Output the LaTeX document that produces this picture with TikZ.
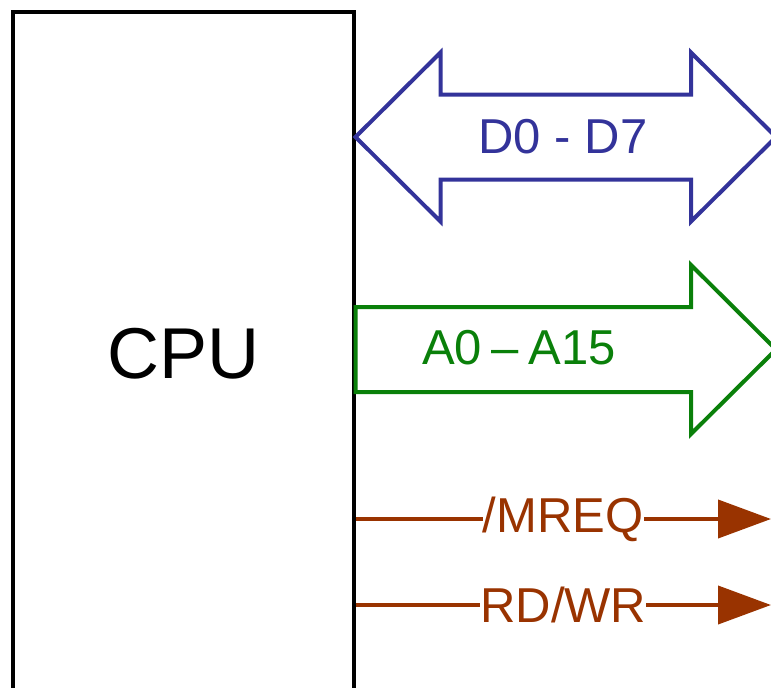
\documentclass[tikz,border=0pt]{standalone}
\usepackage{fontspec}
\setmainfont{Liberation Sans}
\usepackage{xcolor}
\definecolor{databus}{HTML}{33339A}
\definecolor{addrbus}{HTML}{0A800A}
\definecolor{ctrlsig}{HTML}{993300}
\usetikzlibrary{calc,arrows.meta,positioning}

\begin{document}
\begin{tikzpicture}[
    x=1pt, y=-1pt,
    cpubox/.style={draw, line width=3.5pt, minimum width=341, minimum height=684,
      inner sep=0pt, font=\fontsize{72}{74}\selectfont},
    bus/.style={line width=4pt, fill=white, line join=miter},
    buslabel/.style={inner sep=0pt, font=\fontsize{49}{50}\selectfont},
    sig/.style={ctrlsig, line width=4pt, -{Triangle[length=53pt,width=38pt]}},
    siglabel/.style={ctrlsig, fill=white, inner xsep=0pt, inner ysep=6pt,
      font=\fontsize{49}{50}\selectfont}
  ]
  \useasboundingbox (0,0) rectangle (771,688);
  \clip (0,0) rectangle (771,688);

  \def\H{85}    % arrow head length
  \def\Hw{84.5} % half width of a head
  \def\Sw{42.5} % half width of a shaft
  \def\Hx{691}  % x of the right head base

  % CPU block, its bottom edge runs off the page
  \node[cpubox, anchor=north west] (cpu) at (11,10) {CPU};

  \coordinate (dtip) at (cpu.east |- 0,137);
  \coordinate (atail) at (cpu.east |- 0,349.5);

  % Data bus (both ways)
  \draw[bus, draw=databus] (dtip) -- ++(\H,-\Hw) -- ++(0,\Hw-\Sw) -- (\Hx,137-\Sw)
    -- (\Hx,137-\Hw) -- (\Hx+\H,137) -- (\Hx,137+\Hw) -- (\Hx,137+\Sw)
    -- ($(dtip)+(\H,\Sw)$) -- ($(dtip)+(\H,\Hw)$) -- cycle;
  \node[buslabel, databus] (dbus) at (563,137) {D0 - D7};

  % Address bus (out of the CPU)
  \draw[bus, draw=addrbus] ($(atail)+(0,-\Sw)$) -- (\Hx,349.5-\Sw) -- (\Hx,349.5-\Hw)
    -- (\Hx+\H,349.5) -- (\Hx,349.5+\Hw) -- (\Hx,349.5+\Sw) -- ($(atail)+(0,\Sw)$) -- cycle;
  \node[buslabel, addrbus] (abus) at (519,348) {A0\hspace{0.2em}--\hspace{0.2em}A15};

  % Control lines
  \coordinate (mreqend) at (771,519);
  \coordinate (rdwrend) at (771,605);
  \draw[sig] (cpu.east |- mreqend) -- node[siglabel] (mreq) {/MREQ} (mreqend);
  \draw[sig] (cpu.east |- rdwrend) -- node[siglabel] (rdwr) {RD/WR} (rdwrend);
\end{tikzpicture}
\end{document}
